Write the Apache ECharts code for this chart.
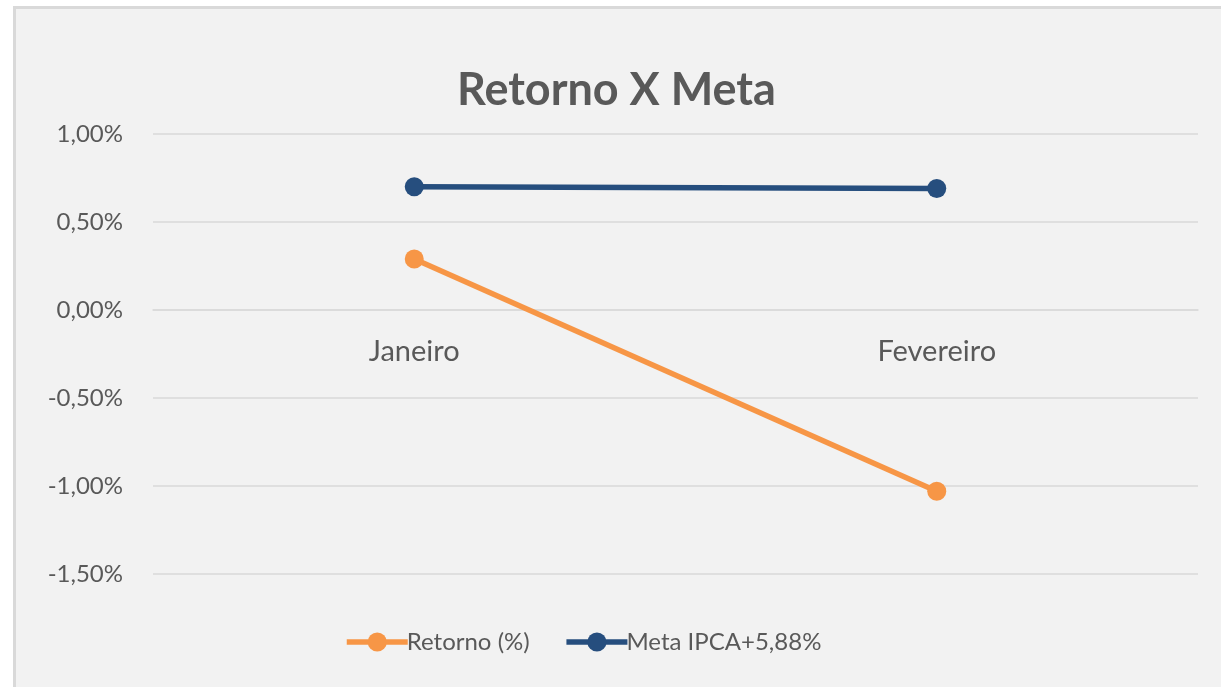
<!DOCTYPE html>
<html>
<head>
<meta charset="utf-8">
<script src="https://cdn.jsdelivr.net/npm/echarts@6/dist/echarts.min.js"></script>
<style>
html,body{margin:0;padding:0;background:#ffffff;width:1221px;height:687px;overflow:hidden;}
#frame{position:absolute;left:13px;top:6px;width:1230px;height:700px;border:3px solid #d9d9d9;background:#f2f2f2;}
#chart{position:absolute;left:0;top:0;width:1221px;height:687px;}
</style>
</head>
<body>
<div id="frame"></div>
<div id="chart"></div>
<script>
const categories = ['Janeiro', 'Fevereiro'];
const retorno = [0.29, -1.03];
const meta = [0.70, 0.69];
const seriesNames = ['Retorno (%)', 'Meta IPCA+5,88%'];
const titleText = 'Retorno X Meta';

const fmt = v => v.toFixed(2).replace('.', ',') + '%';
const font = 'Lato, "Open Sans", sans-serif';

const chart = echarts.init(document.getElementById('chart'), null, {renderer: 'canvas'});
chart.setOption({
  backgroundColor: 'transparent',
  animation: false,
  title: {
    text: titleText,
    left: 457,
    top: 68,
    padding: 0,
    textStyle: {fontFamily: font, fontWeight: 'bold', fontSize: 45, color: '#595959'}
  },
  legend: {
    left: 339,
    top: 625,
    itemWidth: 61,
    itemHeight: 24,
    itemGap: 34,
    lineStyle: {width: 5.5},
    textStyle: {fontFamily: font, fontSize: 24, color: '#595959', padding: [0, 0, 0, -6]},
    data: seriesNames
  },
  grid: {left: 153, right: 23, top: 134, bottom: 113, containLabel: false},
  xAxis: {
    type: 'category',
    data: categories,
    boundaryGap: true,
    offset: -264,
    axisLine: {show: true, onZero: false, lineStyle: {color: '#d9d9d9', width: 1.5}},
    axisTick: {show: false},
    axisLabel: {fontFamily: font, fontSize: 29, color: '#595959', margin: 27},
    splitLine: {show: false}
  },
  yAxis: {
    type: 'value',
    min: -1.5,
    max: 1,
    interval: 0.5,
    axisLine: {show: false},
    axisTick: {show: false},
    axisLabel: {fontFamily: font, fontSize: 24, color: '#595959', margin: 30, formatter: fmt},
    splitLine: {lineStyle: {color: '#d9d9d9', width: 1.5}}
  },
  series: [
    {
      name: seriesNames[0],
      type: 'line',
      data: retorno,
      symbol: 'circle',
      symbolSize: 19,
      itemStyle: {color: '#F79646'},
      lineStyle: {color: '#F79646', width: 5.5}
    },
    {
      name: seriesNames[1],
      type: 'line',
      data: meta,
      symbol: 'circle',
      symbolSize: 19,
      itemStyle: {color: '#264E7E'},
      lineStyle: {color: '#264E7E', width: 5.5}
    }
  ]
});
</script>
</body>
</html>
